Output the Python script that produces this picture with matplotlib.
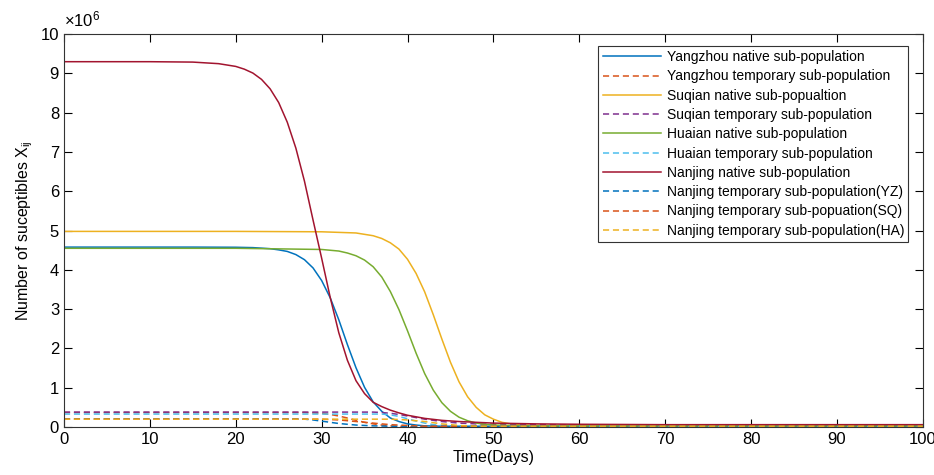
import matplotlib
matplotlib.use("Agg")
import matplotlib.pyplot as plt

plt.rcParams['font.family'] = ['Liberation Sans', 'DejaVu Sans']
plt.rcParams['mathtext.fontset'] = 'custom'
plt.rcParams['mathtext.rm'] = 'Liberation Sans'
plt.rcParams['mathtext.it'] = 'Liberation Sans'

# susceptibles, units of 1e6 -- each curve has its own day grid
yz_native_t = [0, 15, 20, 22, 24, 25, 26, 27, 28, 29, 30, 31, 32, 33, 34, 35, 36, 37, 38, 39, 40, 41, 42, 44, 50, 100]
yz_native = [4.58, 4.58, 4.576, 4.567, 4.54, 4.51, 4.47, 4.39, 4.26, 4.05, 3.73, 3.29, 2.73, 2.10, 1.51, 1.01, 0.64, 0.40,
             0.23, 0.14, 0.08, 0.05, 0.03, 0.02, 0.02, 0.02]

sq_native_t = [0, 20, 30, 34, 36, 37, 38, 39, 40, 41, 42, 43, 44, 45, 46, 47, 48, 49, 50, 51, 52, 54, 56, 100]
sq_native = [4.98, 4.98, 4.97, 4.94, 4.87, 4.80, 4.69, 4.53, 4.27, 3.91, 3.44, 2.86, 2.24, 1.65, 1.15, 0.77, 0.50, 0.31,
             0.20, 0.12, 0.08, 0.05, 0.04, 0.04]

ha_native_t = [0, 20, 30, 32, 33, 34, 35, 36, 37, 38, 39, 40, 41, 42, 43, 44, 45, 46, 47, 48, 49, 50, 52, 55, 100]
ha_native = [4.55, 4.55, 4.52, 4.48, 4.43, 4.36, 4.25, 4.08, 3.82, 3.45, 2.99, 2.45, 1.88, 1.36, 0.94, 0.62, 0.40, 0.25,
             0.16, 0.10, 0.07, 0.05, 0.04, 0.03, 0.03]

nj_native_t = [0, 10, 15, 18, 20, 21, 22, 23, 24, 25, 26, 27, 28, 29, 30, 31, 32, 33, 34, 35, 36, 37, 38, 39, 40,
               42, 44, 46, 48, 50, 55, 60, 70, 100]
nj_native = [9.30, 9.30, 9.29, 9.25, 9.18, 9.11, 9.01, 8.85, 8.61, 8.26, 7.76, 7.10, 6.26, 5.27, 4.30, 3.30, 2.40, 1.70,
             1.18, 0.85, 0.63, 0.52, 0.43, 0.36, 0.30, 0.22, 0.17, 0.14, 0.12, 0.10, 0.08, 0.07, 0.06, 0.06]

yz_temp_t = [0, 28, 29, 30, 31, 32, 33, 34, 35, 36, 37, 38, 39, 40, 100]
yz_temp = [0.37, 0.37, 0.36, 0.35, 0.32, 0.28, 0.23, 0.17, 0.12, 0.08, 0.05, 0.03, 0.02, 0.01, 0.01]

sq_temp_t = [0, 36, 37, 38, 39, 40, 41, 42, 43, 44, 45, 46, 48, 50, 55, 60, 100]
sq_temp = [0.38, 0.38, 0.37, 0.35, 0.32, 0.28, 0.24, 0.20, 0.17, 0.14, 0.12, 0.10, 0.08, 0.07, 0.06, 0.05, 0.05]

ha_temp_t = [0, 37, 38, 39, 40, 41, 42, 43, 44, 45, 46, 100]
ha_temp = [0.33, 0.33, 0.31, 0.27, 0.21, 0.15, 0.10, 0.06, 0.04, 0.03, 0.02, 0.02]

nj_temp_yz_t = [0, 27, 28, 29, 30, 31, 32, 33, 34, 35, 36, 38, 100]
nj_temp_yz = [0.21, 0.21, 0.20, 0.18, 0.15, 0.12, 0.09, 0.07, 0.05, 0.04, 0.03, 0.02, 0.02]

nj_temp_sq_t = [0, 30, 31, 32, 33, 34, 35, 36, 37, 38, 39, 40, 41, 42, 100]
nj_temp_sq = [0.20, 0.20, 0.19, 0.18, 0.16, 0.14, 0.12, 0.10, 0.08, 0.06, 0.05, 0.04, 0.03, 0.02, 0.02]

nj_temp_ha_t = [0, 38, 39, 40, 41, 42, 43, 44, 45, 46, 47, 48, 100]
nj_temp_ha = [0.20, 0.20, 0.19, 0.18, 0.16, 0.14, 0.11, 0.08, 0.06, 0.04, 0.03, 0.02, 0.02]

series = [
    (yz_native_t, yz_native, 'Yangzhou native sub-population', '#0072BD', '-'),
    (yz_temp_t, yz_temp, 'Yangzhou temporary sub-population', '#D95319', '--'),
    (sq_native_t, sq_native, 'Suqian native sub-popualtion', '#EDB120', '-'),
    (sq_temp_t, sq_temp, 'Suqian temporary sub-population', '#7E2F8E', '--'),
    (ha_native_t, ha_native, 'Huaian native sub-population', '#77AC30', '-'),
    (ha_temp_t, ha_temp, 'Huaian temporary sub-population', '#4DBEEE', '--'),
    (nj_native_t, nj_native, 'Nanjing native sub-population', '#A2142F', '-'),
    (nj_temp_yz_t, nj_temp_yz, 'Nanjing temporary sub-population(YZ)', '#0072BD', '--'),
    (nj_temp_sq_t, nj_temp_sq, 'Nanjing temporary sub-popuation(SQ)', '#D95319', '--'),
    (nj_temp_ha_t, nj_temp_ha, 'Nanjing temporary sub-population(HA)', '#EDB120', '--'),
]

fig = plt.figure(figsize=(9.34, 4.75), dpi=100)
ax = fig.add_axes([0.0685, 0.101, 0.9195, 0.827])

for t, vals, name, col, ls in series:
    if ls == '--':
        ax.plot(t, vals, color=col, lw=1.1, linestyle=(0, (4, 2.5)), label=name)
    else:
        ax.plot(t, vals, color=col, lw=1.1, label=name)

ax.set_xlim(0, 100)
ax.set_ylim(0, 10)
ax.set_xticks(range(0, 101, 10))
ax.set_yticks(range(0, 11))
ax.tick_params(direction='in', top=True, right=True, labelsize=12, length=6, width=0.8)
for sp in ax.spines.values():
    sp.set_linewidth(0.8)
    sp.set_color('#333333')

ax.set_xlabel('Time(Days)', fontsize=11.5, labelpad=2)
ax.set_ylabel(r'Number of suceptibles X$_{\rm ij}$', fontsize=11.5, labelpad=4)
ax.text(0.0, 1.012, r'$\times10^{6}$', transform=ax.transAxes, fontsize=12,
        ha='left', va='bottom')

leg = ax.legend(loc='upper right', bbox_to_anchor=(0.983, 0.97), fontsize=10,
                handlelength=4.2, handletextpad=0.4, labelspacing=0.38,
                borderpad=0.3, borderaxespad=0, fancybox=False, framealpha=1)
leg.get_frame().set_edgecolor('#333333')
leg.get_frame().set_linewidth(0.8)

fig.savefig('out.png', dpi=100)
